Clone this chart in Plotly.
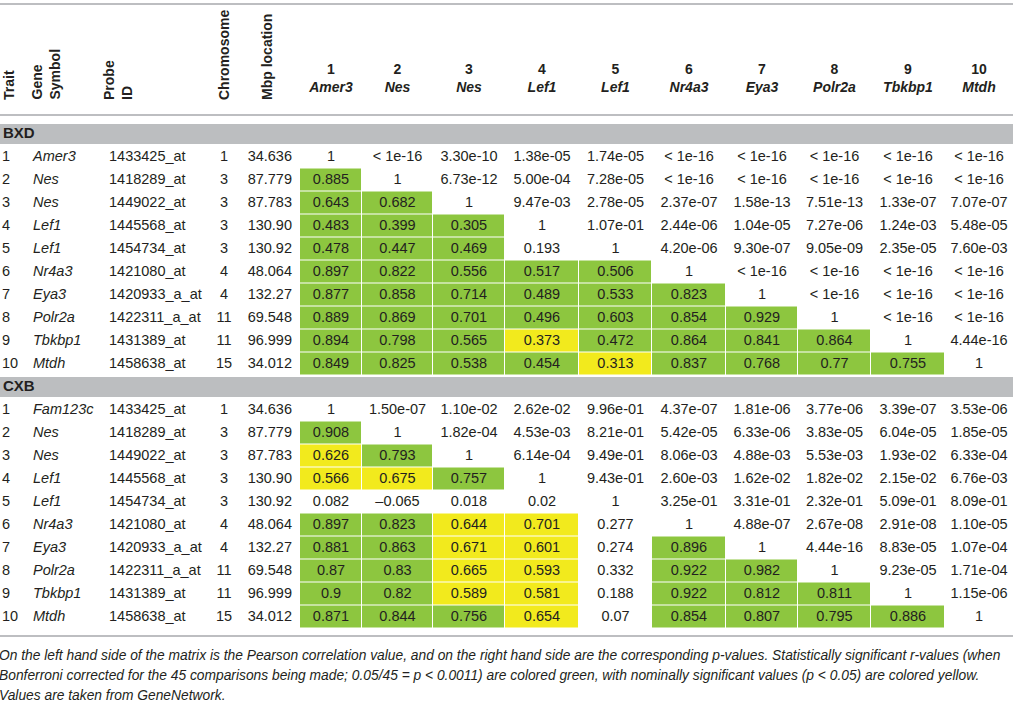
import numpy as np
import plotly.graph_objects as go

# ---- table data ----
trait_ids = [str(i) for i in range(1, 11)]
bxd_genes = ["Amer3", "Nes", "Nes", "Lef1", "Lef1", "Nr4a3", "Eya3", "Polr2a", "Tbkbp1", "Mtdh"]
cxb_genes = ["Fam123c", "Nes", "Nes", "Lef1", "Lef1", "Nr4a3", "Eya3", "Polr2a", "Tbkbp1", "Mtdh"]
probe_ids = ["1433425_at", "1418289_at", "1449022_at", "1445568_at", "1454734_at",
             "1421080_at", "1420933_a_at", "1422311_a_at", "1431389_at", "1458638_at"]
chromosomes = ["1", "3", "3", "3", "3", "4", "4", "11", "11", "15"]
mbp_locations = ["34.636", "87.779", "87.783", "130.90", "130.92",
                 "48.064", "132.27", "69.548", "96.999", "34.012"]
col_numbers = [str(i) for i in range(1, 11)]
col_genes = ["Amer3", "Nes", "Nes", "Lef1", "Lef1", "Nr4a3", "Eya3", "Polr2a", "Tbkbp1", "Mtdh"]

LT = "&lt; 1e-16"
bxd_values = [
    ["1", LT, "3.30e-10", "1.38e-05", "1.74e-05", LT, LT, LT, LT, LT],
    ["0.885", "1", "6.73e-12", "5.00e-04", "7.28e-05", LT, LT, LT, LT, LT],
    ["0.643", "0.682", "1", "9.47e-03", "2.78e-05", "2.37e-07", "1.58e-13", "7.51e-13", "1.33e-07", "7.07e-07"],
    ["0.483", "0.399", "0.305", "1", "1.07e-01", "2.44e-06", "1.04e-05", "7.27e-06", "1.24e-03", "5.48e-05"],
    ["0.478", "0.447", "0.469", "0.193", "1", "4.20e-06", "9.30e-07", "9.05e-09", "2.35e-05", "7.60e-03"],
    ["0.897", "0.822", "0.556", "0.517", "0.506", "1", LT, LT, LT, LT],
    ["0.877", "0.858", "0.714", "0.489", "0.533", "0.823", "1", LT, LT, LT],
    ["0.889", "0.869", "0.701", "0.496", "0.603", "0.854", "0.929", "1", LT, LT],
    ["0.894", "0.798", "0.565", "0.373", "0.472", "0.864", "0.841", "0.864", "1", "4.44e-16"],
    ["0.849", "0.825", "0.538", "0.454", "0.313", "0.837", "0.768", "0.77", "0.755", "1"],
]
cxb_values = [
    ["1", "1.50e-07", "1.10e-02", "2.62e-02", "9.96e-01", "4.37e-07", "1.81e-06", "3.77e-06", "3.39e-07", "3.53e-06"],
    ["0.908", "1", "1.82e-04", "4.53e-03", "8.21e-01", "5.42e-05", "6.33e-06", "3.83e-05", "6.04e-05", "1.85e-05"],
    ["0.626", "0.793", "1", "6.14e-04", "9.49e-01", "8.06e-03", "4.88e-03", "5.53e-03", "1.93e-02", "6.33e-04"],
    ["0.566", "0.675", "0.757", "1", "9.43e-01", "2.60e-03", "1.62e-02", "1.82e-02", "2.15e-02", "6.76e-03"],
    ["0.082", "\u20130.065", "0.018", "0.02", "1", "3.25e-01", "3.31e-01", "2.32e-01", "5.09e-01", "8.09e-01"],
    ["0.897", "0.823", "0.644", "0.701", "0.277", "1", "4.88e-07", "2.67e-08", "2.91e-08", "1.10e-05"],
    ["0.881", "0.863", "0.671", "0.601", "0.274", "0.896", "1", "4.44e-16", "8.83e-05", "1.07e-04"],
    ["0.87", "0.83", "0.665", "0.593", "0.332", "0.922", "0.982", "1", "9.23e-05", "1.71e-04"],
    ["0.9", "0.82", "0.589", "0.581", "0.188", "0.922", "0.812", "0.811", "1", "1.15e-06"],
    ["0.871", "0.844", "0.756", "0.654", "0.07", "0.854", "0.807", "0.795", "0.886", "1"],
]
# significance class per cell: G = Bonferroni significant, Y = nominal, . = none
bxd_sig = [
    "..........",
    "G.........",
    "GG........",
    "GGG.......",
    "GGG.......",
    "GGGGG.....",
    "GGGGGG....",
    "GGGGGGG...",
    "GGGYGGGG..",
    "GGGGYGGGG.",
]
cxb_sig = [
    "..........",
    "G.........",
    "YG........",
    "YYG.......",
    "..........",
    "GGYY......",
    "GGYY.G....",
    "GGYY.GG...",
    "GGYY.GGG..",
    "GGGY.GGGG.",
]
caption = [
    "On the left hand side of the matrix is the Pearson correlation value, and on the right hand side "
    "are the corresponding p-values. Statistically significant r-values (when",
    "Bonferroni corrected for the 45 comparisons being made; 0.05/45 = p &lt; 0.0011) are colored green, "
    "with nominally significant values (p &lt; 0.05) are colored yellow.",
    "Values are taken from GeneNetwork.",
]

# ---- layout constants ----
W, H = 1013, 704
FONT = "Liberation Sans"
INK = "#231f20"
GREEN = "#8dc63f"
YELLOW = "#f2ea1d"
BAND = "#bcbec0"
RULE = "#a7a9ac"
COL_EDGES = np.array([300, 362, 433, 505, 579, 652, 726, 798, 871, 945, 1013])
COL_MID = (COL_EDGES[:-1] + COL_EDGES[1:]) / 2
ROW_H = 23
blocks = [
    ("BXD", 124, bxd_genes, bxd_values, bxd_sig),
    ("CXB", 377, cxb_genes, cxb_values, cxb_sig),
]

fig = go.Figure()


def text_trace(x, y, text, pos, size=14.5, italic=False, bold=False):
    t = list(text)
    if italic:
        t = ["<i>%s</i>" % s for s in t]
    if bold:
        t = ["<b>%s</b>" % s for s in t]
    fig.add_trace(go.Scatter(
        x=list(x), y=list(y), text=t, mode="text", textposition=pos,
        textfont=dict(family=FONT, size=size, color=INK),
        hoverinfo="skip", showlegend=False, cliponaxis=False,
    ))


shapes = []
for label, band_top, genes, values, sig in blocks:
    shapes.append(dict(type="rect", xref="x", yref="y", x0=0, x1=W, y0=band_top, y1=band_top + 20,
                       fillcolor=BAND, line=dict(width=0), layer="below"))
    text_trace([3], [band_top + 10.5], [label], "middle right", size=15, bold=True)

    row_top = band_top + 21.5
    row_edges = row_top + ROW_H * np.arange(11)
    row_mid = (row_edges[:-1] + row_edges[1:]) / 2
    code = {"G": 1.0, "Y": 2.0, ".": np.nan}
    z = [[code[c] for c in r] for r in sig]
    fig.add_trace(go.Heatmap(
        x=COL_EDGES, y=row_edges, z=z, zmin=1, zmax=2,
        colorscale=[[0, GREEN], [0.5, GREEN], [0.5, YELLOW], [1, YELLOW]],
        showscale=False, xgap=1, ygap=1, hoverinfo="skip",
    ))

    text_trace([2] * 10, row_mid, trait_ids, "middle right")
    text_trace([33] * 10, row_mid, genes, "middle right", italic=True)
    text_trace([109] * 10, row_mid, probe_ids, "middle right")
    text_trace([224] * 10, row_mid, chromosomes, "middle center")
    text_trace([292] * 10, row_mid, mbp_locations, "middle left")
    xs, ys, ts = [], [], []
    for i, row in enumerate(values):
        for j, v in enumerate(row):
            xs.append(COL_MID[j])
            ys.append(row_mid[i])
            ts.append(v)
    text_trace(xs, ys, ts, "middle center")

# column headers
text_trace(COL_MID, [70] * 10, col_numbers, "middle center", size=14, bold=True)
text_trace(COL_MID, [88] * 10, col_genes, "middle center", size=14, bold=True, italic=True)

annotations = []
for txt, xc in [("Trait", 9), ("Gene<br>Symbol", 45), ("Probe<br>ID", 118),
                ("Chromosome", 224), ("Mbp location", 267)]:
    annotations.append(dict(
        text="<b>%s</b>" % txt, x=xc, y=102, xref="x", yref="y",
        xanchor="center", yanchor="bottom", textangle=-90, align="left",
        showarrow=False, font=dict(family=FONT, size=14, color=INK),
    ))

for k, line in enumerate(caption):
    annotations.append(dict(
        text="<i>%s</i>" % line, x=0, y=655 + 20 * k, xref="x", yref="y",
        xanchor="left", yanchor="middle", showarrow=False, align="left",
        xshift=-3, font=dict(family=FONT, size=13.8, color=INK),
    ))

for yy in [4, 115, 636]:
    shapes.append(dict(type="line", xref="x", yref="y", x0=0, x1=W, y0=yy, y1=yy,
                       line=dict(color=RULE, width=1.5)))

fig.update_layout(
    width=W, height=H,
    margin=dict(l=0, r=0, t=0, b=0),
    paper_bgcolor="white", plot_bgcolor="white",
    xaxis=dict(range=[0, W], visible=False, fixedrange=True),
    yaxis=dict(range=[H, 0], visible=False, fixedrange=True),
    shapes=shapes, annotations=annotations,
    showlegend=False,
)

# drop the default page margin so the figure sits at the window corner
fig.write_html("out.html", post_script="document.body.style.margin='0';",
               config={"displayModeBar": False})
